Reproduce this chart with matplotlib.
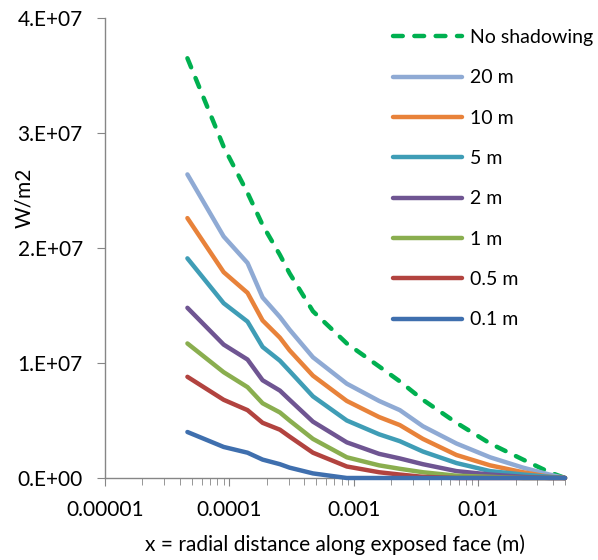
import numpy as np
import matplotlib
matplotlib.use("Agg")
import matplotlib.pyplot as plt
from matplotlib.ticker import FixedLocator, FixedFormatter, LogLocator, NullFormatter

plt.rcParams["font.family"] = ["Lato", "DejaVu Sans"]

# radial distance (m)
x = [4.6e-5, 9e-5, 1.4e-4, 1.85e-4, 2.55e-4, 3.05e-4, 4.7e-4, 8.8e-4,
     1.6e-3, 2.35e-3, 3.6e-3, 6.7e-3, 1.25e-2, 2.3e-2, 3.75e-2, 5e-2]

# heat flux, units of 1e7 W/m2
no_shadow = [3.65, 2.88, 2.48, 2.20, 1.94, 1.78, 1.45, 1.17, 0.97, 0.84, 0.68, 0.48, 0.30, 0.16, 0.05, 0.0]
s20 = [2.64, 2.10, 1.87, 1.57, 1.40, 1.29, 1.05, 0.82, 0.67, 0.59, 0.45, 0.30, 0.18, 0.09, 0.03, 0.0]
s10 = [2.26, 1.79, 1.61, 1.37, 1.22, 1.11, 0.89, 0.67, 0.53, 0.46, 0.34, 0.20, 0.11, 0.05, 0.01, 0.0]
s5 = [1.91, 1.52, 1.36, 1.14, 1.02, 0.93, 0.71, 0.50, 0.38, 0.32, 0.23, 0.13, 0.06, 0.03, 0.01, 0.0]
s2 = [1.48, 1.16, 1.03, 0.85, 0.76, 0.68, 0.49, 0.31, 0.21, 0.17, 0.12, 0.06, 0.03, 0.01, 0.0, 0.0]
s1 = [1.17, 0.92, 0.79, 0.65, 0.57, 0.50, 0.34, 0.18, 0.11, 0.08, 0.05, 0.02, 0.01, 0.0, 0.0, 0.0]
s05 = [0.88, 0.68, 0.59, 0.48, 0.42, 0.36, 0.22, 0.10, 0.05, 0.03, 0.01, 0.0, 0.0, 0.0, 0.0, 0.0]
s01 = [0.40, 0.27, 0.22, 0.16, 0.12, 0.09, 0.04, 0.0, 0.0, 0.0, 0.0, 0.0, 0.0, 0.0, 0.0, 0.0]

labels = ["No shadowing", "20 m", "10 m", "5 m", "2 m", "1 m", "0.5 m", "0.1 m"]
series = [no_shadow, s20, s10, s5, s2, s1, s05, s01]
colors = ["#00B050", "#8FAAD4", "#E8823A", "#3F9DB6", "#6F5592", "#8AAE4F", "#B2433F", "#3F6FAE"]

yticks = [0, 1e7, 2e7, 3e7, 4e7]
ytick_labels = ["0.E+00", "1.E+07", "2.E+07", "3.E+07", "4.E+07"]
xticks = [1e-5, 1e-4, 1e-3, 1e-2]
xtick_labels = ["0.00001", "0.0001", "0.001", "0.01"]

fig = plt.figure(figsize=(5.98, 5.6), dpi=100)
ax = fig.add_axes([105 / 598, 82 / 560, 460 / 598, 460 / 560])

for vals, lab, col in zip(series, labels, colors):
    y = np.array(vals) * 1e7
    if lab == "No shadowing":
        ax.plot(x, y, color=col, lw=3.2, ls=(0, (2.2, 2.6)), dash_capstyle="round",
                label=lab, clip_on=False, zorder=3)
    else:
        ax.plot(x, y, color=col, lw=3.2, solid_capstyle="round", label=lab,
                clip_on=False, zorder=3)

ax.set_xscale("log")
ax.set_xlim(1e-5, 5e-2)
ax.set_ylim(0, 4e7)

ax.xaxis.set_major_locator(FixedLocator(xticks))
ax.xaxis.set_major_formatter(FixedFormatter(xtick_labels))
ax.xaxis.set_minor_locator(LogLocator(base=10, subs=np.arange(2, 10), numticks=20))
ax.xaxis.set_minor_formatter(NullFormatter())
ax.yaxis.set_major_locator(FixedLocator(yticks))
ax.yaxis.set_major_formatter(FixedFormatter(ytick_labels))

for s in ["top", "right"]:
    ax.spines[s].set_visible(False)
for s in ["left", "bottom"]:
    ax.spines[s].set_color("#868686")
    ax.spines[s].set_linewidth(1.0)

ax.tick_params(axis="both", which="both", color="#868686", labelsize=15, labelcolor="black")
ax.tick_params(axis="y", which="major", length=6, pad=10)
ax.tick_params(axis="x", which="major", length=6, pad=10)
ax.tick_params(axis="x", which="minor", length=5)

ax.set_xlabel("x = radial distance along exposed face (m)", fontsize=15, labelpad=10)
ax.set_ylabel("W/m2", fontsize=15)
ax.yaxis.set_label_coords(-0.155, 0.61)

ax.legend(loc="upper left", bbox_to_anchor=(393 / 598, 1 - 29 / 560),
          bbox_transform=fig.transFigure, frameon=False, fontsize=14,
          handlelength=3.55, handletextpad=0.4, labelspacing=1.2,
          borderpad=0, borderaxespad=0)

fig.savefig("out.png", dpi=100)
